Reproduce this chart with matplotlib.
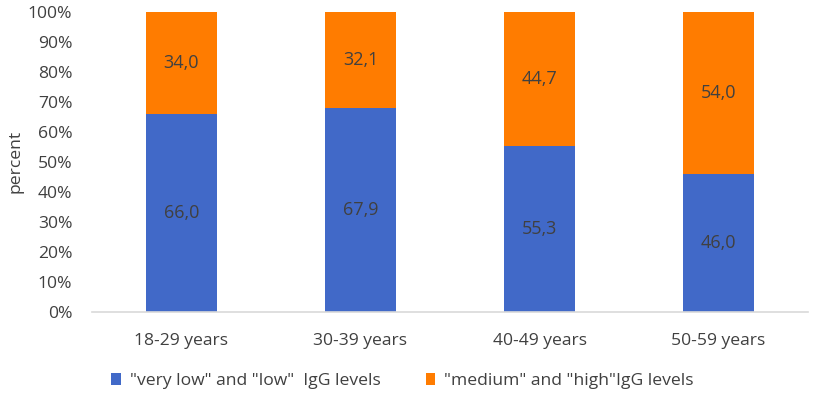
import matplotlib.pyplot as plt
import numpy as np

plt.rcParams['font.family'] = ['Open Sans', 'DejaVu Sans']

# age groups and shares (percent)
categories = ['18-29 years', '30-39 years', '40-49 years', '50-59 years']
low_levels = [66.0, 67.9, 55.3, 46.0]
high_levels = [34.0, 32.1, 44.7, 54.0]
series_names = ['"very low" and "low"  IgG levels', '"medium" and "high"IgG levels']

blue = '#4169C8'
orange = '#FF7C00'
text_col = '#404040'

fig = plt.figure(figsize=(8.13, 3.94), dpi=100)
ax = fig.add_axes([0.113, 0.208, 0.881, 0.762])

x = np.arange(len(categories))
w = 0.40
b1 = ax.bar(x, low_levels, w, color=blue, label=series_names[0])
b2 = ax.bar(x, high_levels, w, bottom=low_levels, color=orange, label=series_names[1])

# value labels, comma decimal
for bars, vals, bottoms in [(b1, low_levels, [0] * 4), (b2, high_levels, low_levels)]:
    for rect, v, b in zip(bars, vals, bottoms):
        ax.text(rect.get_x() + rect.get_width() / 2, b + v / 2,
                f'{v:.1f}'.replace('.', ','), ha='center', va='center',
                fontsize=13, color=text_col)

ax.set_xlim(-0.5, len(categories) - 0.5)
ax.set_ylim(0, 100)
ax.set_yticks(range(0, 101, 10))
ax.set_yticklabels([f'{t}%' for t in range(0, 101, 10)])
ax.set_xticks(x)
ax.set_xticklabels(categories)
ax.tick_params(axis='both', length=0, labelsize=12.6, colors=text_col)
ax.tick_params(axis='x', pad=15)
ax.tick_params(axis='y', pad=14)

for s in ['top', 'right', 'left']:
    ax.spines[s].set_visible(False)
ax.spines['bottom'].set_color('#D9D9D9')
ax.spines['bottom'].set_linewidth(1.2)

ax.set_ylabel('percent', fontsize=12.6, color=text_col, labelpad=3)

leg = fig.legend(loc='center', bbox_to_anchor=(0.495, 0.033), ncol=2, frameon=False,
                 fontsize=12.6, handlelength=0.55, handleheight=0.7,
                 handletextpad=0.5, columnspacing=2.6)
for t in leg.get_texts():
    t.set_color(text_col)

fig.savefig('out.png', dpi=100)
